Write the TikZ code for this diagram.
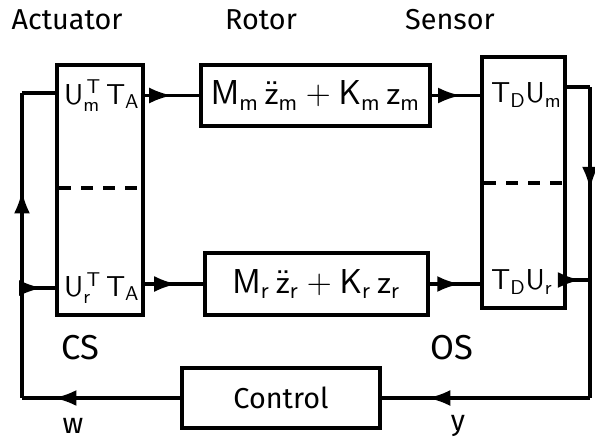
\documentclass[tikz,border=0pt]{standalone}
\usepackage[no-math]{fontspec}
\setmainfont{Fira Sans}
\usetikzlibrary{arrows.meta, positioning, decorations.markings}
\tikzset{
  blk/.style      = {draw, line width=1.7pt, inner sep=0pt, font=\Large},
  wire/.style     = {line width=1.7pt},
  lbl/.style      = {font=\Large},
  big/.style      = {font=\LARGE},
  midarrow/.style = {postaction={decorate}, decoration={markings,
                     mark=at position #1 with {\arrow{Latex[length=4mm, width=2.8mm]}}}},
}

\begin{document}
\begin{tikzpicture}[x=0.5pt, y=-0.5pt]
\useasboundingbox (0,0) rectangle (595,441);

% titles
\node[lbl] (tact) at (67,20) {Actuator};
\node[lbl] (trot) at (261,20) {Rotor};
\node[lbl] (tsen) at (450,20) {Sensor};

% blocks
\node[blk, minimum width=43pt, minimum height=125pt] (act) at (100,190) {};
\node[blk, minimum width=114.5pt, minimum height=30.5pt] (rotm) at (315.5,95.5)
  {\LARGE$\mathsf{M_m\,\ddot{z}_m + K_m\,z_m}$};
\node[blk, minimum width=111.5pt, minimum height=31pt] (rotr) at (316.5,284)
  {\LARGE$\mathsf{M_r\,\ddot{z}_r + K_r\,z_r}$};
\node[blk, minimum width=41.5pt, minimum height=125.5pt] (sens) at (523.5,182.5) {};
\node[blk, minimum width=99pt, minimum height=30pt] (ctrl) at (281,398) {Control};

% block contents
\node[lbl, anchor=west] (um) at (57,95.5) {$\mathsf{U_m^{\,T}\,T_A}$};
\node[lbl, anchor=west] (ur) at (57,288) {$\mathsf{U_r^{\,T}\,T_A}$};
\node[lbl, anchor=west] (tm) at (484,95) {$\mathsf{T_D U_m}$};
\node[lbl, anchor=west] (tr) at (484,282) {$\mathsf{T_D U_r}$};
\draw[wire, dashed, dash pattern=on 6pt off 5pt] ([xshift=2pt]act.west |- 0,188) -- ([xshift=-2pt]act.east |- 0,188);
\draw[wire, dashed, dash pattern=on 6pt off 5pt] ([xshift=2pt]sens.west |- 0,183) -- ([xshift=-2pt]sens.east |- 0,183);

% side labels
\node[big] (cs) at (80,348) {CS};
\node[big] (os) at (452,348) {OS};
\node[lbl] (w) at (73,426) {w};
\node[lbl] (y) at (458,426) {y};

% loop corners
\coordinate (lt) at (22,93);
\coordinate (lm) at (22,288);
\coordinate (lb) at (22,398);
\coordinate (rt) at (590,87);
\coordinate (rm) at (590,280);
\coordinate (rb) at (590,398);

% forward path
\draw[wire, midarrow=0.5] (act.east |- rotm.west) -- (rotm.west);
\draw[wire, midarrow=0.55] (act.east |- rotr.west) -- (rotr.west);
\draw[wire, midarrow=0.6] (rotm.east) -- (sens.west |- rotm.east);
\draw[wire, midarrow=0.6] (rotr.east) -- (sens.west |- rotr.east);

% feedback loop
\draw[wire] (sens.east |- rt) -- (rt);
\draw[wire, midarrow=0.6] (sens.east |- rm) -- (rm);
\draw[wire, midarrow=0.33] (rt) -- (rb);
\draw[wire, midarrow=0.78] (rb) -- (ctrl.east);
\draw[wire, midarrow=0.8] (ctrl.west) -- (lb);
\draw[wire, midarrow=0.68] (lb) -- (lt);
\draw[wire] (lt) -- (act.west |- lt);
\draw[wire, midarrow=0.6] (lm) -- (act.west |- lm);

\end{tikzpicture}
\end{document}
